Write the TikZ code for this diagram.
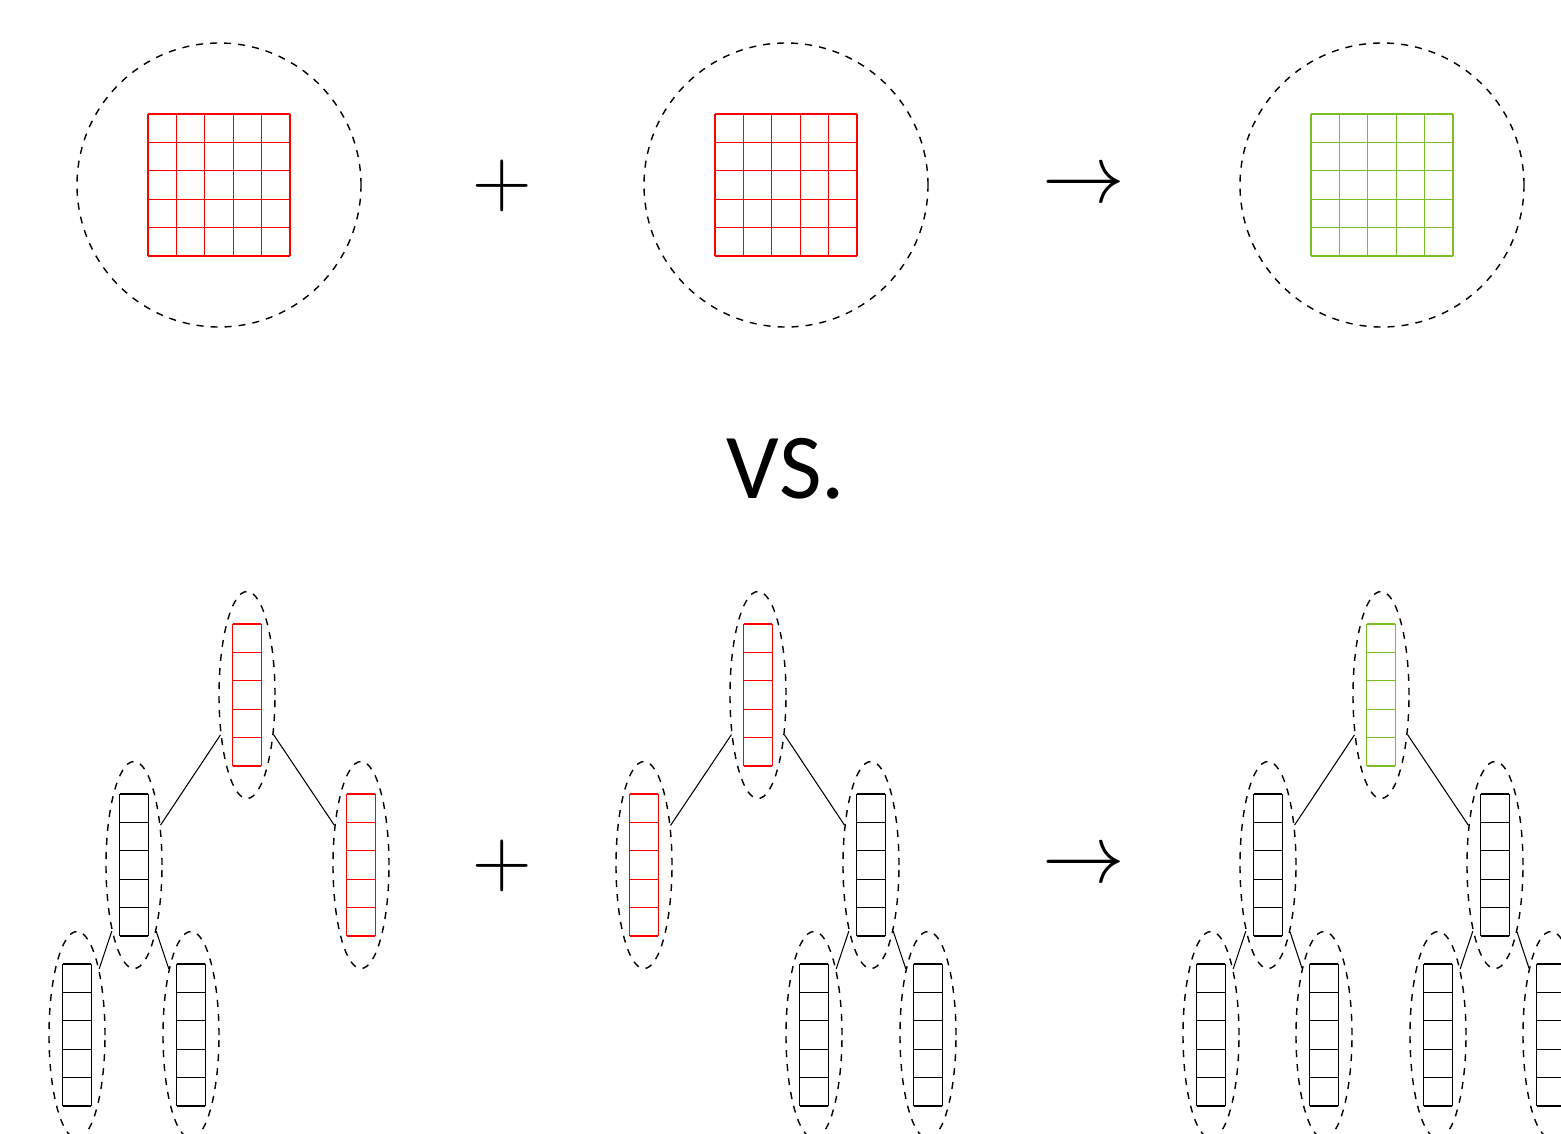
\RequirePackage{fix-cm}
\documentclass[tikz,border=0pt]{standalone}
\usepackage{fontspec}
\newfontfamily\vsfont{Carlito}
\usepackage{tikz}
\usetikzlibrary{shapes.geometric}
\definecolor{mergegreen}{RGB}{122,190,36}

% cells centred on a node: #1 node, #2 columns, #3 rows, #4 colour
\newcommand{\drawcells}[4]{%
  \begin{scope}[shift={(#1)}, color=#4, line width=0.3pt]
    \foreach \k in {0,...,#2}
      \draw (\k*0.284-#2*0.142,-#3*0.142) -- ++(0,#3*0.284);
    \foreach \k in {0,...,#3}
      \draw (-#2*0.142,\k*0.284-#3*0.142) -- ++(#2*0.284,0);
  \end{scope}}

\begin{document}
\begin{tikzpicture}[
    bag/.style={circle, draw, dash pattern=on 2pt off 2pt, minimum size=28.4mm, inner sep=0pt},
    tnode/.style={ellipse, draw, dash pattern=on 2pt off 2pt, minimum width=5.6mm, minimum height=20.7mm, inner sep=0pt},
    op/.style={font=\fontsize{23.5}{28}\selectfont, inner sep=0pt},
  ]
  \clip (0,0) rectangle (15.61,11.33);

  % flat blocks: a + b -> sum
  \foreach \name/\x/\clr in {fa/2.19/red, fb/7.86/red, fs/13.82/mergegreen} {
    \node[bag] (\name) at (\x,9.48) {};
    \drawcells{\name}{5}{5}{\clr}
  }
  \node[op] (fplus) at (5.02,9.47) {$+$};
  \node[op] (fto)   at (10.84,9.46) {$\rightarrow$};

  \node[font=\vsfont\fontsize{26.4}{30}\selectfont, anchor=base] (vs) at (7.86,6.35) {VS.};

  % trees of columns
  \foreach \name/\x/\y/\clr in {
      t1r/2.47/4.38/red, t1a/1.34/2.68/black, t1b/3.61/2.68/red,
      t1aa/0.77/0.98/black, t1ab/1.91/0.98/black,
      t2r/7.58/4.38/red, t2a/6.44/2.68/red, t2b/8.71/2.68/black,
      t2ba/8.14/0.98/black, t2bb/9.28/0.98/black,
      t3r/13.81/4.38/mergegreen, t3a/12.68/2.68/black, t3b/14.95/2.68/black,
      t3aa/12.11/0.98/black, t3ab/13.24/0.98/black,
      t3ba/14.38/0.98/black, t3bb/15.51/0.98/black} {
    \node[tnode] (\name) at (\x,\y) {};
    \drawcells{\name}{1}{5}{\clr}
  }
  \foreach \a/\b in {t1r/t1a, t1r/t1b, t1a/t1aa, t1a/t1ab,
                     t2r/t2a, t2r/t2b, t2b/t2ba, t2b/t2bb,
                     t3r/t3a, t3r/t3b, t3a/t3aa, t3a/t3ab, t3b/t3ba, t3b/t3bb}
    \draw[line width=0.3pt] (\a) -- (\b);

  \node[op] (tplus) at (5.02,2.67) {$+$};
  \node[op] (tto)   at (10.84,2.66) {$\rightarrow$};
\end{tikzpicture}
\end{document}
